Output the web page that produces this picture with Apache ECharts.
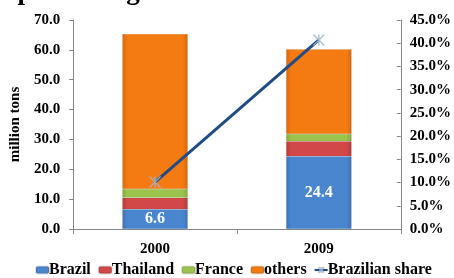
<!DOCTYPE html>
<html>
<head>
<meta charset="utf-8">
<script src="https://cdn.jsdelivr.net/npm/echarts@6/dist/echarts.min.js"></script>
<style>
  html, body { margin: 0; padding: 0; background: #fff; }
  #chart { width: 454px; height: 278px; }
</style>
</head>
<body>
<div id="chart"></div>
<script>
// values (million tons)
var years = ["2000", "2009"];
var brazil = [6.6, 24.4];
var thailand = [3.9, 5.0];
var france = [2.9, 2.4];
var others = [51.9, 28.4];
var brazilShare = [0.101, 0.407];

var font = "'Liberation Serif', 'Times New Roman', serif";

function shade(c1, c2) {
    return new echarts.graphic.LinearGradient(0, 0, 1, 0, [
        { offset: 0, color: c2 },
        { offset: 0.08, color: c1 },
        { offset: 0.92, color: c1 },
        { offset: 1, color: c2 }
    ]);
}

function bar(name, data, c1, c2, withLabel) {
    return {
        name: name,
        type: "bar",
        stack: "sugar",
        barWidth: "40%",
        data: data,
        itemStyle: {
            color: shade(c1, c2),
            borderColor: "rgba(0,0,0,0.12)",
            borderWidth: 0.5
        },
        label: withLabel ? {
            show: true,
            position: "inside",
            color: "#fff",
            fontFamily: font,
            fontWeight: "bold",
            fontSize: 16,
            formatter: function(p) { return p.value.toFixed(1); }
        } : { show: false }
    };
}

var chart = echarts.init(document.getElementById("chart"));
var option = {
    animation: false,
    textStyle: { fontFamily: font },
    graphic: [{
        type: "text",
        x: -14,
        y: 6,
        style: {
            text: "Exported sugar:",
            font: "bold 27px " + font,
            verticalAlign: "bottom",
            fill: "#000"
        }
    }],
    legend: {
        bottom: -5,
        left: 30,
        itemWidth: 13,
        itemHeight: 7,
        itemGap: 7,
        textStyle: { fontFamily: font, fontWeight: "bold", fontSize: 16, color: "#000", padding: [0, 0, 0, -5] },
        data: ["Brazil", "Thailand", "France", "others", "Brazilian share"]
    },
    grid: { left: 68, right: 53, top: 20, bottom: 49 },
    xAxis: {
        type: "category",
        data: years,
        axisLine: { lineStyle: { color: "#888" } },
        axisTick: { show: true, length: 5, lineStyle: { color: "#888" } },
        axisLabel: { color: "#000", fontWeight: "bold", fontSize: 15, fontFamily: font, margin: 13 }
    },
    yAxis: [{
        type: "value",
        min: 0,
        max: 70,
        interval: 10,
        name: "million tons",
        nameLocation: "middle",
        nameGap: 48,
        nameTextStyle: { color: "#000", fontWeight: "bold", fontSize: 15, fontFamily: font },
        splitLine: { show: false },
        axisLine: { show: true, lineStyle: { color: "#888" } },
        axisTick: { show: true, length: 4, lineStyle: { color: "#888" } },
        axisLabel: {
            color: "#000", fontWeight: "bold", fontSize: 15, fontFamily: font, margin: 13,
            formatter: function(v) { return v.toFixed(1); }
        }
    }, {
        type: "value",
        min: 0,
        max: 0.45,
        interval: 0.05,
        splitLine: { show: false },
        axisLine: { show: true, lineStyle: { color: "#888" } },
        axisTick: { show: true, inside: true, length: 4, lineStyle: { color: "#888" } },
        axisLabel: {
            color: "#000", fontWeight: "bold", fontSize: 15, fontFamily: font, margin: 9,
            formatter: function(v) { return (v * 100).toFixed(1) + "%"; }
        }
    }],
    series: [
        bar("Brazil", brazil, "#4A86D0", "#3E72B4", true),
        bar("Thailand", thailand, "#D24848", "#B33A3A", false),
        bar("France", france, "#9CC44C", "#84A83E", false),
        bar("others", others, "#F47A12", "#D9690C", false),
        {
            name: "Brazilian share",
            type: "line",
            yAxisIndex: 1,
            data: brazilShare,
            symbol: "path://M0,0L10,10M10,0L0,10M5,0L5,10",
            symbolSize: 11,
            lineStyle: { color: "#1F4C86", width: 3 },
            itemStyle: { color: "#9FB6D4", borderColor: "#9FB6D4", borderWidth: 1.5, opacity: 0.8 },
            z: 5
        }
    ]
};
chart.setOption(option);
</script>
</body>
</html>
